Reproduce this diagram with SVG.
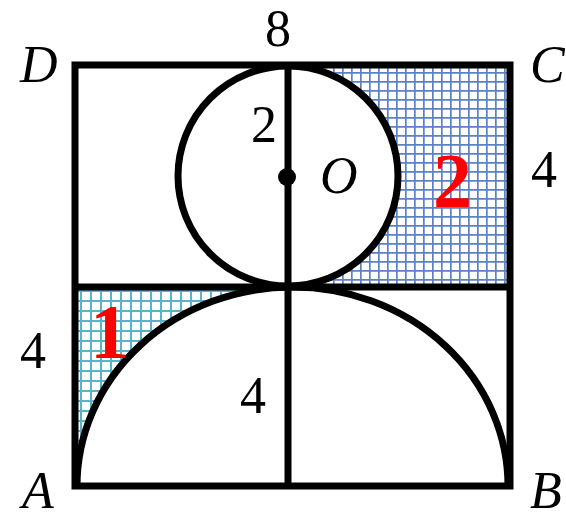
<svg xmlns="http://www.w3.org/2000/svg" width="566" height="521" viewBox="0 0 566 521">
<style>
.ln{fill:none;stroke:#000;stroke-width:7}
.lbl{font-family:"Liberation Serif",serif;font-size:52px;fill:#000}
.it{font-style:italic}
.red{font-family:"Liberation Serif",serif;font-weight:bold;font-size:78px;fill:#f00}
</style>
<defs>
<pattern id="gridB" width="9" height="9" patternUnits="userSpaceOnUse">
<rect width="9" height="9" fill="#fff"/>
<path d="M0 0.8H9M0.8 0V9" stroke="#5a82c4" stroke-width="1.8"/>
</pattern>
<pattern id="gridT" width="10" height="10" patternUnits="userSpaceOnUse">
<rect width="10" height="10" fill="#fff"/>
<path d="M0 1H10M1 0V10" stroke="#58b2c8" stroke-width="2"/>
</pattern>
</defs>
<g id="shade2">
<path d="M288 65H510V287H288A110 111 0 0 0 288 65Z" fill="url(#gridB)"/>
</g>
<g id="shade1">
<path d="M76 287H292A216 199 0 0 0 76 486Z" fill="url(#gridT)"/>
</g>
<g id="connectors">
<rect class="ln" x="75" y="65" width="435" height="421"/>
<line class="ln" x1="75" y1="287" x2="510" y2="287"/>
<line class="ln" x1="288" y1="65" x2="288" y2="486" stroke-width="9"/>
<circle class="ln" cx="288" cy="176" r="110"/>
<path class="ln" d="M77 486 A215.5 199 0 0 1 508 486"/>
</g>
<g id="O">
<circle cx="287" cy="177" r="9" fill="#000"/>
<text class="lbl it" x="320" y="193">O</text>
</g>
<g id="labels">
<text class="lbl" x="265" y="46" font-size="42">8</text>
<text class="lbl it" x="20" y="82" font-size="48">D</text>
<text class="lbl it" x="530" y="82" font-size="48">C</text>
<text class="lbl it" x="22" y="508" font-size="46">A</text>
<text class="lbl it" x="530" y="508" font-size="46">B</text>
<text class="lbl" x="251" y="142">2</text>
<text class="lbl" x="531" y="187">4</text>
<text class="lbl" x="20" y="368">4</text>
<text class="lbl" x="240" y="413">4</text>
<text class="red" x="90" y="358">1</text>
<text class="red" x="433" y="207">2</text>
</g>
</svg>
